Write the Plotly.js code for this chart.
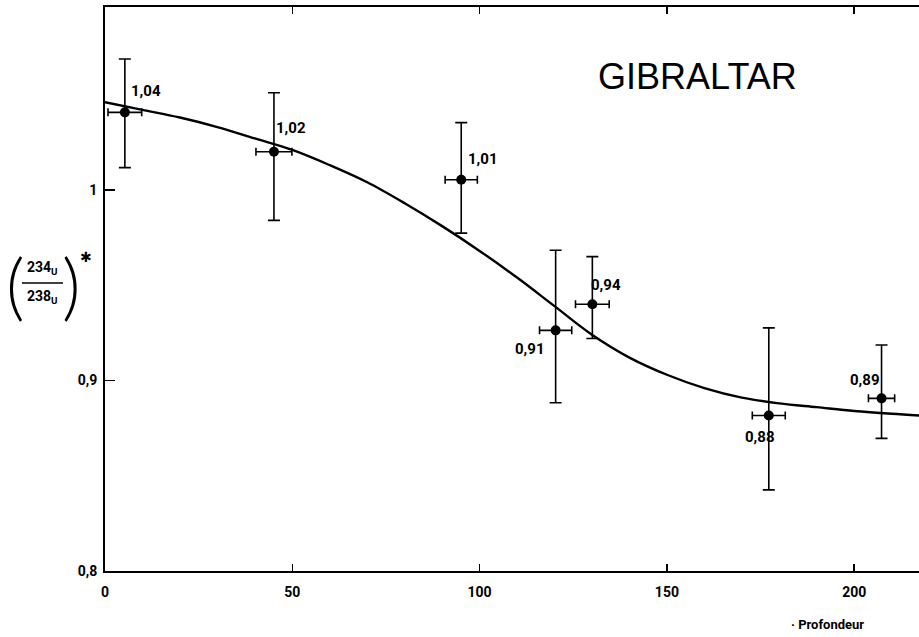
<!DOCTYPE html>
<html>
<head>
<meta charset="utf-8">
<script src="https://cdn.plot.ly/plotly-3.0.1.min.js"></script>
<style>html,body{margin:0;padding:0;background:#fff;}#chart{width:919px;height:637px;}</style>
</head>
<body>
<div id="chart"></div>
<script>
// Measured points (depth, ratio)
const depth = [5.3, 45.1, 95.1, 120.3, 130.1, 177.2, 207.3];
const ratio = [1.0407, 1.020, 1.0053, 0.9263, 0.940, 0.8816, 0.8906];
const errUp = [0.028, 0.031, 0.030, 0.042, 0.025, 0.046, 0.028];
const errDown = [0.029, 0.036, 0.028, 0.038, 0.018, 0.039, 0.021];
const errDepth = [4.5, 4.8, 4.3, 4.3, 4.5, 4.4, 3.5];
const pointLabels = ["1,04", "1,02", "1,01", "0,91", "0,94", "0,88", "0,89"];

// Fitted curve
const curveDepth = [0, 10, 20, 30, 40, 50, 60, 70, 80, 90, 100, 110, 120, 130, 140, 150, 160, 170, 180, 190, 200, 210, 218];
const curveRatio = [1.046, 1.042, 1.038, 1.033, 1.027, 1.021, 1.013, 1.004, 0.993, 0.981, 0.968, 0.954, 0.939, 0.924, 0.912, 0.903, 0.896, 0.891, 0.888, 0.886, 0.884, 0.8825, 0.8815];

const xTickVals = [0, 50, 100, 150, 200];
const xTickText = ["0", "50", "100", "150", "200"];
const yTickVals = [0.8, 0.9, 1.0];
const yTickText = ["0,8", "0,9", "1"];

// label pixel offsets (style/position, not data)
const labelShiftX = [21, 17, 22, -26, 14, -9, -17];
const labelShiftY = [21, 24, 21, -19, 19, -21, 18];

const condFont = "Roboto, 'DejaVu Sans Condensed', sans-serif";

const traces = [
  {
    x: curveDepth, y: curveRatio, type: 'scatter', mode: 'lines',
    line: {color: '#000', width: 2.4, shape: 'spline', smoothing: 1},
    hoverinfo: 'skip', cliponaxis: true
  },
  {
    x: depth, y: ratio, type: 'scatter', mode: 'markers',
    marker: {color: '#000', size: 10},
    error_y: {type: 'data', symmetric: false, array: errUp, arrayminus: errDown, color: '#000', thickness: 1.6, width: 6},
    error_x: {type: 'data', array: errDepth, color: '#000', thickness: 1.6, width: 4},
    cliponaxis: false
  }
];

const annotations = pointLabels.map((t, i) => ({
  x: depth[i], y: ratio[i], xref: 'x', yref: 'y', text: '<b>' + t + '</b>',
  showarrow: false, xshift: labelShiftX[i], yshift: labelShiftY[i],
  xanchor: 'center', yanchor: 'middle',
  font: {family: condFont, size: 15, color: '#000'}
}));

annotations.push({
  x: 158.3, y: 1.0593, xref: 'x', yref: 'y', text: 'GIBRALTAR', showarrow: false,
  xanchor: 'center', yanchor: 'middle',
  font: {family: "'Liberation Sans', Arial, sans-serif", size: 36, color: '#000'}
});

// y-axis label (234U/238U)*
function px2paperX(px) { return (px - 105) / 814; }
function px2paperY(py) { return (571 - py) / 564; }
function paperNote(px, py, text, font) {
  return {x: px2paperX(px), y: px2paperY(py), xref: 'paper', yref: 'paper', text: text,
          showarrow: false, xanchor: 'center', yanchor: 'middle', font: font};
}
const parenFont = {family: "Lato, 'Noto Sans', sans-serif", size: 72, color: '#000', weight: 300};
annotations.push(
  paperNote(15, 284, '(', parenFont),
  paperNote(71, 284, ')', parenFont),
  paperNote(43, 268, '<b>234<sub>U</sub></b>', {family: condFont, size: 14, color: '#000'}),
  paperNote(43, 297, '<b>238<sub>U</sub></b>', {family: condFont, size: 14, color: '#000'}),
  paperNote(86, 257, '<b>✱</b>', {family: "'DejaVu Sans', sans-serif", size: 14, color: '#000'}),
  paperNote(827, 624, '<b>· Profondeur</b>', {family: condFont, size: 13, color: '#000'})
);

const layout = {
  width: 919, height: 637,
  margin: {l: 105, r: 0, t: 7, b: 66},
  paper_bgcolor: '#fff', plot_bgcolor: '#fff',
  showlegend: false,
  separators: ', ',
  font: {family: condFont, color: '#000'},
  xaxis: {
    range: [0, 217.3], showgrid: false, zeroline: false,
    showline: true, linecolor: '#000', linewidth: 2, mirror: 'ticks',
    ticks: 'inside', ticklen: 7, tickwidth: 1.5, tickcolor: '#000',
    tickvals: xTickVals, ticktext: xTickText,
    tickfont: {family: condFont, size: 14, color: '#000', weight: 'bold'},
    ticklabelstandoff: 7
  },
  yaxis: {
    range: [0.8, 1.096], showgrid: false, zeroline: false,
    showline: true, linecolor: '#000', linewidth: 2, mirror: false,
    ticks: 'inside', ticklen: 10, tickwidth: 1.5, tickcolor: '#000',
    tickvals: yTickVals, ticktext: yTickText,
    tickfont: {family: condFont, size: 14, color: '#000', weight: 'bold'},
    ticklabelstandoff: 3
  },
  shapes: [
    {type: 'line', xref: 'paper', yref: 'paper', x0: px2paperX(22), x1: px2paperX(63),
     y0: px2paperY(283), y1: px2paperY(283), line: {color: '#000', width: 1.5}}
  ],
  annotations: annotations
};

Plotly.newPlot('chart', traces, layout, {staticPlot: true, displayModeBar: false});
</script>
</body>
</html>
